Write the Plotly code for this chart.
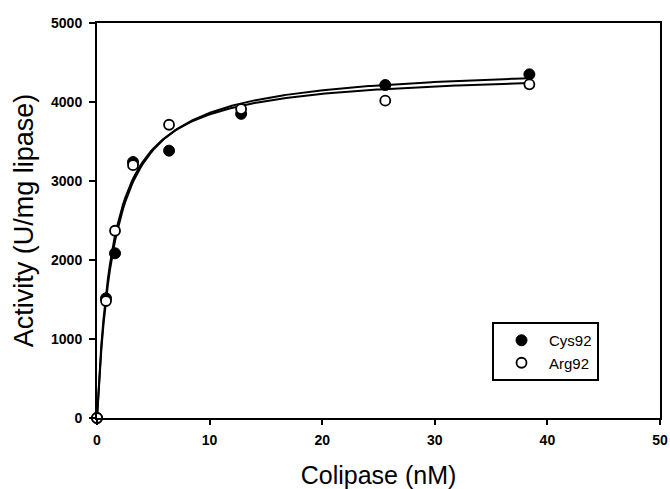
import numpy as np
import plotly.graph_objects as go

# ---- data ----
colipase_nM = [0.0, 0.8, 1.6, 3.2, 6.4, 12.8, 25.6, 38.4]
cys92_activity = [0, 1515, 2085, 3240, 3384, 3850, 4215, 4350]
arg92_activity = [0, 1481, 2370, 3200, 3712, 3910, 4017, 4224]

# hyperbolic (Michaelis-Menten) fit parameters, estimated from the drawn curves
cys92_fit = {"vmax": 4480, "km": 1.60}
arg92_fit = {"vmax": 4400, "km": 1.45}

x_ticks = [0, 10, 20, 30, 40, 50]
y_ticks = [0, 1000, 2000, 3000, 4000, 5000]

FONT = "Liberation Sans, Arial, Helvetica, sans-serif"

xfit = np.linspace(0, max(colipase_nM), 200)


def mm(p, x):
    return p["vmax"] * x / (p["km"] + x)


fig = go.Figure()

for p in (cys92_fit, arg92_fit):
    fig.add_trace(go.Scatter(
        x=xfit, y=mm(p, xfit), mode="lines",
        line=dict(color="black", width=2), showlegend=False,
        hoverinfo="skip", cliponaxis=False,
    ))

fig.add_trace(go.Scatter(
    x=colipase_nM, y=cys92_activity, mode="markers", name="Cys92",
    marker=dict(symbol="circle", size=11, color="black",
                line=dict(color="black", width=1)),
    cliponaxis=False,
))
fig.add_trace(go.Scatter(
    x=colipase_nM, y=arg92_activity, mode="markers", name="Arg92",
    marker=dict(symbol="circle", size=10, color="white",
                line=dict(color="black", width=1.8)),
    cliponaxis=False,
))

axis_common = dict(
    showgrid=False, zeroline=False, showline=True, linecolor="black",
    linewidth=2, mirror=True, ticks="outside", tickcolor="black",
    tickwidth=2, tickfont=dict(family=FONT, size=14, color="black", weight="bold"),
)

fig.update_xaxes(
    range=[0, 50], tickvals=x_ticks, ticklen=5, ticklabelstandoff=3,
    title=dict(text="Colipase (nM)", font=dict(family=FONT, size=25, color="black"),
               standoff=22),
    **axis_common,
)
fig.update_yaxes(
    range=[0, 5000], tickvals=y_ticks, ticklen=6, ticklabelstandoff=4,
    title=dict(text="Activity (U/mg lipase)",
               font=dict(family=FONT, size=27, color="black"), standoff=10),
    **axis_common,
)

fig.update_layout(
    width=670, height=489,
    margin=dict(l=97, r=10, t=23, b=71, autoexpand=False),
    paper_bgcolor="white", plot_bgcolor="white",
    showlegend=True,
    legend=dict(
        x=(492 - 97) / 563, y=(418 - 322) / 395, xanchor="left", yanchor="top",
        bordercolor="black", borderwidth=2, bgcolor="white",
        itemwidth=45,
        font=dict(family=FONT, size=15, color="black"),
    ),
)

fig.write_html("out.html", config={"displayModeBar": False},
               post_script="document.body.style.margin='0';")
